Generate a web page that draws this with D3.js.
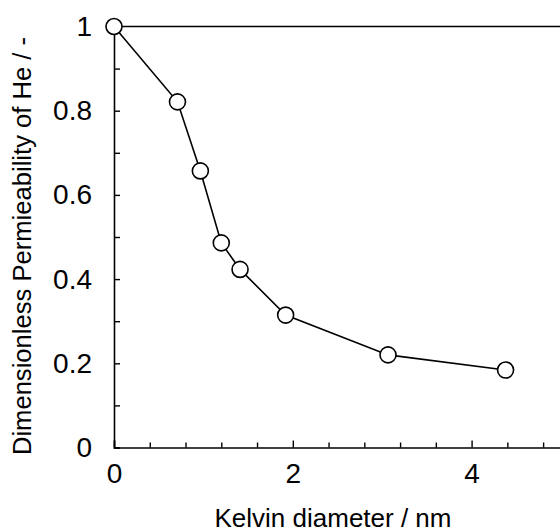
<!DOCTYPE html>
<html>
<head>
<meta charset="utf-8">
<script src="https://cdn.jsdelivr.net/npm/d3@7"></script>
<style>
  body { margin: 0; background: #fff; }
  svg { display: block; font-family: "Liberation Sans", Arial, sans-serif; }
</style>
</head>
<body>
<svg width="560" height="532"></svg>
<script>
// Kelvin diameter (nm) vs dimensionless He permeability
var kelvinDiameter = [0, 0.71, 0.966, 1.20, 1.41, 1.92, 3.065, 4.38];
var permeability   = [1, 0.821, 0.657, 0.486, 0.423, 0.3145, 0.220, 0.184];

var xMajor = [0, 2, 4];
var xMinor = [0.4, 0.8, 1.2, 1.6, 2.4, 2.8, 3.2, 3.6, 4.4, 4.8];
var yMajor = [0, 0.2, 0.4, 0.6, 0.8, 1];
var yMinor = [0.1, 0.3, 0.5, 0.7, 0.9];

var data = kelvinDiameter.map((d, i) => ({x: d, y: permeability[i]}));

var svg = d3.select("svg");

var x = d3.scaleLinear().domain([0, 5]).range([114, 561]);
var y = d3.scaleLinear().domain([0, 1]).range([447.5, 26.5]);

// frame (top + right)
svg.append("path")
    .attr("fill", "none")
    .attr("stroke", "#000")
    .attr("stroke-width", 1.6)
    .attr("d", `M${x(0)},${y(1)}H${x(5)}V${y(0)}`);

// x axis
var xAxis = d3.axisBottom(x)
    .tickValues(xMajor)
    .tickSize(-7)
    .tickPadding(16)
    .tickFormat(d3.format("d"));

svg.append("g")
    .attr("transform", `translate(0,${y(0)})`)
    .call(xAxis);

svg.append("g")
    .attr("transform", `translate(0,${y(0)})`)
    .call(d3.axisBottom(x).tickValues(xMinor).tickSize(-5).tickFormat(""))
    .call(g => g.select(".domain").remove());

// y axis
var yAxis = d3.axisLeft(y)
    .tickValues(yMajor)
    .tickSize(-6)
    .tickPadding(22)
    .tickFormat(d => d === 0 || d === 1 ? d3.format("d")(d) : d3.format(".1f")(d));

svg.append("g")
    .attr("transform", `translate(${x(0)},0)`)
    .call(yAxis);

svg.append("g")
    .attr("transform", `translate(${x(0)},0)`)
    .call(d3.axisLeft(y).tickValues(yMinor).tickSize(-6).tickFormat(""))
    .call(g => g.select(".domain").remove());

svg.selectAll("g").attr("font-size", null).attr("font-family", null);
svg.selectAll(".domain").attr("stroke-width", 1.6);
svg.selectAll(".tick line").attr("stroke-width", 1.4);
svg.selectAll(".tick text")
    .style("font-size", "28px")
    .attr("fill", "#000");

// axis titles
svg.append("text")
    .attr("x", 333)
    .attr("y", 527)
    .attr("text-anchor", "middle")
    .style("font-size", "26px")
    .text("Kelvin diameter / nm");

svg.append("text")
    .attr("transform", "translate(31,246) rotate(-90)")
    .attr("text-anchor", "middle")
    .style("font-size", "25.6px")
    .text("Dimensionless Permieability of He / -");

// series line
var line = d3.line()
    .x(d => x(d.x))
    .y(d => y(d.y));

svg.append("path")
    .datum(data)
    .attr("fill", "none")
    .attr("stroke", "#000")
    .attr("stroke-width", 1.6)
    .attr("d", line);

svg.selectAll(".pt")
    .data(data)
  .enter().append("circle")
    .attr("class", "pt")
    .attr("cx", d => x(d.x))
    .attr("cy", d => y(d.y))
    .attr("r", 8)
    .attr("fill", "#fff")
    .attr("stroke", "#000")
    .attr("stroke-width", 1.6);
</script>
</body>
</html>
